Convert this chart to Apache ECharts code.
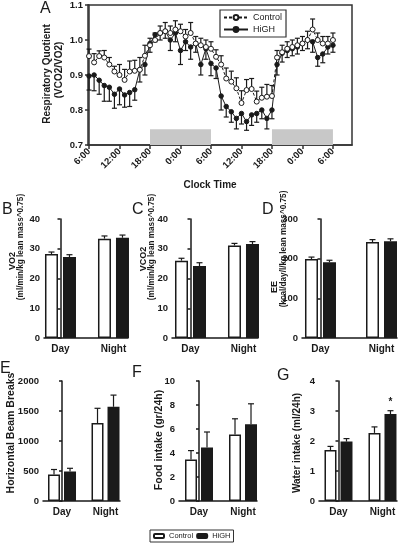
<!DOCTYPE html>
<html><head><meta charset="utf-8">
<script src="https://cdn.jsdelivr.net/npm/echarts@6/dist/echarts.min.js"></script>
<style>html,body{margin:0;padding:0;background:#fff}#c{width:400px;height:544px}</style>
</head><body><div id="c"></div><script>
// ---------- Panel A data ----------
const hours = [0,1,2,3,4,5,6,7,8,9,10,11,12,13,14,15,16,17,18,19,20,21,22,23,24,25,26,27,28,29,30,31,32,33,34,35,36,37,38,39,40,41,42,43,44,45,46,47,48];
const rqControl = [0.954,0.936,0.954,0.950,0.930,0.910,0.900,0.886,0.910,0.912,0.915,0.955,0.985,1.000,1.020,1.025,1.020,1.030,1.025,1.010,1.020,0.990,0.985,0.980,0.975,0.952,0.930,0.890,0.881,0.862,0.820,0.857,0.860,0.824,0.835,0.838,0.840,0.950,0.965,0.975,0.980,0.985,0.990,1.000,1.030,1.000,0.990,0.990,1.000];
const rqControlErr = [0.02,0.025,0.015,0.02,0.02,0.015,0.03,0.03,0.03,0.03,0.035,0.03,0.02,0.02,0.02,0.025,0.02,0.025,0.02,0.02,0.03,0.02,0.02,0.02,0.02,0.02,0.025,0.03,0.03,0.03,0.035,0.03,0.03,0.03,0.03,0.035,0.03,0.02,0.02,0.02,0.02,0.02,0.02,0.025,0.03,0.02,0.02,0.02,0.02];
const rqHigh = [0.897,0.900,0.885,0.870,0.865,0.845,0.860,0.843,0.850,0.858,0.915,0.930,0.990,1.015,1.020,1.025,1.000,1.020,0.970,0.995,0.980,0.990,0.930,0.975,0.933,0.920,0.840,0.810,0.795,0.776,0.790,0.767,0.786,0.790,0.800,0.776,0.800,0.930,0.962,0.970,0.975,0.980,0.990,1.000,0.995,0.950,0.960,0.980,0.985];
const rqHighErr = [0.04,0.045,0.04,0.045,0.04,0.04,0.045,0.035,0.04,0.03,0.035,0.03,0.025,0.02,0.02,0.02,0.03,0.025,0.04,0.025,0.035,0.025,0.03,0.03,0.035,0.03,0.04,0.03,0.03,0.03,0.03,0.025,0.03,0.025,0.025,0.03,0.025,0.03,0.025,0.02,0.02,0.02,0.02,0.025,0.03,0.025,0.025,0.02,0.02];
const clockTicks = [0,6,12,18,24,30,36,42,48];
const clockLabels = ['6:00','12:00','18:00','0:00','6:00','12:00','18:00','0:00','6:00'];
const darkPeriods = [[12,24],[36,48]];

// ---------- Bar panels data ----------
const periods = ['Day','Night'];
const vo2Control = [28.2,33.4], vo2ControlErr = [0.7,0.9], vo2High = [27.2,33.7], vo2HighErr = [0.8,0.9];
const vco2Control = [26.0,31.1], vco2ControlErr = [0.8,0.7], vco2High = [24.2,31.6], vco2HighErr = [1.1,0.8];
const eeControl = [199,242], eeControlErr = [5,6], eeHigh = [191,244], eeHighErr = [5,6];
const beamControl = [440,1300], beamControlErr = [85,245], beamHigh = [490,1570], beamHighErr = [55,195];
const foodControl = [3.45,5.55], foodControlErr = [0.75,1.3], foodHigh = [4.45,6.4], foodHighErr = [1.3,1.7];
const waterControl = [1.7,2.27], waterControlErr = [0.12,0.2], waterHigh = [1.98,2.9], waterHighErr = [0.1,0.11];
const waterSig = ['', '*'];

const FONT = 'Liberation Sans, Arial, sans-serif';
const INK = '#1a1a1a';

const panels = [
  {L:'B', grid:{left:44,top:219,width:84,height:119}, y:[0,40,10], x:[-0.311,1.274], bw:13, gap:5, c:vo2Control, ce:vo2ControlErr, h:vo2High, he:vo2HighErr},
  {L:'C', grid:{left:172,top:219,width:86,height:119}, y:[0,40,10], x:[-0.349,1.274], bw:13, gap:5, c:vco2Control, ce:vco2ControlErr, h:vco2High, he:vco2HighErr},
  {L:'D', grid:{left:302,top:219,width:95,height:119}, y:[0,300,100], x:[-0.303,1.254], bw:13, gap:5, c:eeControl, ce:eeControlErr, h:eeHigh, he:eeHighErr},
  {L:'E', grid:{left:43,top:381,width:77,height:120}, y:[0,2000,500], x:[-0.437,1.333], bw:12, gap:4, c:beamControl, ce:beamControlErr, h:beamHigh, he:beamHighErr},
  {L:'F', grid:{left:179,top:381,width:78,height:120}, y:[0,10,2], x:[-0.4545,1.318], bw:12, gap:4, c:foodControl, ce:foodControlErr, h:foodHigh, he:foodHighErr},
  {L:'G', grid:{left:319,top:381,width:78,height:120}, y:[0,4,1], x:[-0.443,1.330], bw:12, gap:4, c:waterControl, ce:waterControlErr, h:waterHigh, he:waterHighErr, sig:waterSig}
];

function errRender(dir, offset, cap) {
  return function (params, api) {
    const x = api.value(0), v = api.value(1), e = api.value(2);
    const p0 = api.coord([x, v]);
    const p1 = api.coord([x, v + dir * e]);
    const cx = p0[0] + offset;
    const style = {stroke: INK, lineWidth: 1.2};
    return {type: 'group', children: [
      {type: 'line', shape: {x1: cx, y1: p0[1], x2: cx, y2: p1[1]}, style: style},
      {type: 'line', shape: {x1: cx - cap, y1: p1[1], x2: cx + cap, y2: p1[1]}, style: style}
    ]};
  };
}

const grids = [{left:88, top:5, width:264, height:140, show:true, borderColor:'#333', borderWidth:1.5}];
const xAxes = [{
  gridIndex:0, type:'value', min:-0.2, max:51.75,
  axisLine:{lineStyle:{color:'#333', width:1.5}},
  axisTick:{show:true, length:4, customValues:clockTicks, lineStyle:{color:'#333', width:1.5}},
  splitLine:{show:false},
  axisLabel:{customValues:clockTicks, rotate:45, margin:5, fontSize:9.5, fontWeight:'bold', fontFamily:FONT, color:INK,
    formatter: v => clockLabels[clockTicks.indexOf(Math.round(v))] || ''}
}];
const yAxes = [{
  gridIndex:0, type:'value', min:0.7, max:1.1, interval:0.1,
  axisLine:{show:true, lineStyle:{color:'#333', width:1.5}},
  axisTick:{show:true, length:4, lineStyle:{color:'#333', width:1.5}},
  splitLine:{show:false},
  axisLabel:{margin:5, fontSize:9.5, fontWeight:'bold', fontFamily:FONT, color:INK, formatter: v => v.toFixed(1)}
}];

const series = [
  {type:'line', name:'Control', xAxisIndex:0, yAxisIndex:0, data: hours.map((h,i)=>[h, rqControl[i]]),
    symbol:'circle', symbolSize:5, lineStyle:{color:INK, width:1, type:[3,2]},
    itemStyle:{color:'#fff', borderColor:INK, borderWidth:1}, z:4,
    markArea:{silent:true, itemStyle:{color:'#c8c8c8'},
      data: darkPeriods.map(p => [{xAxis:p[0], yAxis:0.7}, {xAxis:p[1], yAxis:0.745}])}},
  {type:'line', name:'HiGH', xAxisIndex:0, yAxisIndex:0, data: hours.map((h,i)=>[h, rqHigh[i]]),
    symbol:'circle', symbolSize:4.5, lineStyle:{color:INK, width:1},
    itemStyle:{color:INK, borderColor:INK, borderWidth:1}, z:3},
  {type:'custom', xAxisIndex:0, yAxisIndex:0, renderItem: errRender(1, 0, 2.5),
    data: hours.map((h,i)=>[h, rqControl[i], rqControlErr[i]]), encode:{x:0, y:1}, z:2},
  {type:'custom', xAxisIndex:0, yAxisIndex:0, renderItem: errRender(-1, 0, 2.5),
    data: hours.map((h,i)=>[h, rqHigh[i], rqHighErr[i]]), encode:{x:0, y:1}, z:2}
];

panels.forEach((p, k) => {
  const gi = k + 1;
  grids.push(Object.assign({}, p.grid));
  xAxes.push({gridIndex:gi, type:'value', min:p.x[0], max:p.x[1],
    axisLine:{show:true, lineStyle:{color:INK, width:1.5}}, axisTick:{show:false}, splitLine:{show:false},
    axisLabel:{customValues:[0,1], margin:6, fontSize:10, fontWeight:'bold', fontFamily:FONT, color:INK,
      formatter: v => periods[Math.round(v)]}});
  yAxes.push({gridIndex:gi, type:'value', min:p.y[0], max:p.y[1], interval:p.y[2],
    axisLine:{show:true, lineStyle:{color:INK, width:1.5}},
    axisTick:{show:true, length:3, lineStyle:{color:INK, width:1.5}}, splitLine:{show:false},
    axisLabel:{margin:4, fontSize:9.5, fontWeight:'bold', fontFamily:FONT, color:INK, formatter: v => String(v)}});
  const off = (p.bw + p.gap) / 2;
  series.push({type:'bar', name:'Control ', xAxisIndex:gi, yAxisIndex:gi, barWidth:p.bw, barGap:(p.gap/p.bw*100)+'%',
    data: p.c.map((v,i)=>[i, v]), itemStyle:{color:'#fff', borderColor:INK, borderWidth:1.5}, z:2});
  const hs = {type:'bar', name:'HiGH ', xAxisIndex:gi, yAxisIndex:gi, barWidth:p.bw,
    data: p.h.map((v,i)=>[i, v]), itemStyle:{color:INK, borderColor:INK, borderWidth:1.5}, z:2};
  if (p.sig) {
    hs.label = {show:true, position:'top', distance:7, fontSize:10, fontWeight:'bold', color:INK, fontFamily:FONT,
      formatter: q => p.sig[q.dataIndex]};
  }
  series.push(hs);
  series.push({type:'custom', xAxisIndex:gi, yAxisIndex:gi, renderItem: errRender(1, -off, 3),
    data: p.c.map((v,i)=>[i, v, p.ce[i]]), encode:{x:0, y:1}, z:3});
  series.push({type:'custom', xAxisIndex:gi, yAxisIndex:gi, renderItem: errRender(1, off, 3),
    data: p.h.map((v,i)=>[i, v, p.he[i]]), encode:{x:0, y:1}, z:3});
});

function vtext(text, x, y, size) {
  return {type:'text', x:x, y:y, rotation:Math.PI/2,
    style:{text:text, fontSize:size, fontWeight:'bold', fontFamily:FONT, fill:INK, align:'center', verticalAlign:'middle'}};
}
function letter(t, x, y) {
  return {type:'text', x:x, y:y, style:{text:t, fontSize:16, fontFamily:FONT, fill:INK, align:'left', verticalAlign:'top'}};
}

const graphics = [
  letter('A', 40, 1), letter('B', 2, 202), letter('C', 132, 202), letter('D', 262, 202),
  letter('E', 0, 361), letter('F', 132, 365), letter('G', 277, 368),
  vtext('Respiratory Quotient', 47.5, 74, 10), vtext('(VCO2/VO2)', 59, 70, 10),
  {type:'text', x:210, y:185, style:{text:'Clock Time', fontSize:10, fontWeight:'bold', fontFamily:FONT, fill:INK, align:'center', verticalAlign:'middle'}},
  vtext('VO2', 12.5, 261, 9), vtext('(ml/min/kg lean mass^0.75)', 21, 247, 8.2),
  vtext('VCO2', 143.5, 259, 9), vtext('(ml/min/kg lean mass^0.75)', 151.5, 247, 8.2),
  vtext('EE', 275, 287, 9), vtext('(kcal/day/l/kg lean mass^0.75)', 283.5, 249, 8.2),
  vtext('Horizontal Beam Breaks', 11, 433, 10.5),
  vtext('Food intake (gr/24h)', 159, 440, 10.5),
  vtext('Water intake (ml/24h)', 297.5, 443, 10)
];

const chart = echarts.init(document.getElementById('c'), null, {renderer:'canvas'});
chart.setOption({
  animation:false,
  backgroundColor:'#fff',
  grid: grids, xAxis: xAxes, yAxis: yAxes, series: series,
  legend: [
    {data:['Control','HiGH'], left:220, top:10, orient:'vertical', padding:[3,4,3,3], itemWidth:24, itemHeight:6, itemGap:3,
      borderColor:'#333', borderWidth:1.2, textStyle:{fontSize:9, fontFamily:FONT, color:INK}, selectedMode:false},
    {data:['Control ','HiGH '], left:150, top:530, orient:'horizontal', padding:[2,3,2,3], itemWidth:10, itemHeight:4, itemGap:3,
      borderColor:'#333', borderWidth:1, textStyle:{fontSize:7.5, fontFamily:FONT, color:INK}, selectedMode:false,
      formatter: n => n.trim()}
  ],
  graphic: graphics
});
</script></body></html>
